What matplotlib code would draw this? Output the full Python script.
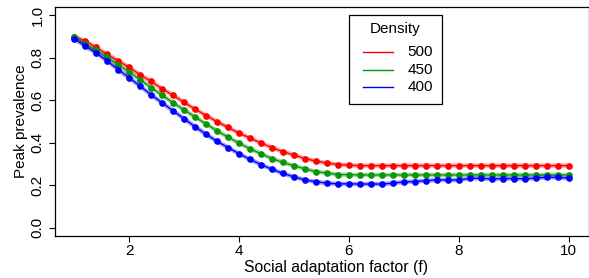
import numpy as np
import matplotlib
matplotlib.use("Agg")
import matplotlib.pyplot as plt
from matplotlib.patches import Rectangle

# social adaptation factor, step 0.2
f = np.round(np.linspace(1, 10, 46), 1)

dens_500 = [0.900, 0.880, 0.849, 0.816, 0.786, 0.755, 0.720, 0.689, 0.654, 0.623,
            0.590, 0.558, 0.528, 0.499, 0.472, 0.445, 0.422, 0.398, 0.377, 0.357,
            0.342, 0.325, 0.313, 0.304, 0.297, 0.294] + [0.292] * 20
dens_450 = [0.900, 0.865, 0.835, 0.802, 0.767, 0.733, 0.697, 0.660, 0.624, 0.588,
            0.555, 0.521, 0.488, 0.456, 0.426, 0.398, 0.371, 0.348, 0.325, 0.307,
            0.291, 0.277, 0.263, 0.257, 0.250, 0.249] + [0.248] * 20
dens_400 = [0.890, 0.856, 0.823, 0.785, 0.745, 0.706, 0.667, 0.626, 0.588, 0.550,
            0.513, 0.475, 0.440, 0.406, 0.377, 0.348, 0.321, 0.297, 0.274, 0.255,
            0.239, 0.224, 0.216, 0.209, 0.206, 0.206, 0.205, 0.205, 0.205, 0.209,
            0.215, 0.217, 0.220, 0.225, 0.224, 0.224, 0.232, 0.232, 0.229, 0.231,
            0.231, 0.230, 0.233, 0.237, 0.236, 0.233]

labels = ["500", "450", "400"]
colors = ["#ff0000", "#0a960a", "#0000ff"]
series = [dens_500, dens_450, dens_400]

plt.rcParams['font.family'] = ['Liberation Sans', 'DejaVu Sans']
plt.rcParams['font.size'] = 11

fig = plt.figure(figsize=(5.89, 2.78), dpi=100)
ax = fig.add_axes([54.5 / 589, 42 / 278, 534 / 589, 229 / 278])

for y, c in zip(series, colors):
    ax.plot(f, y, color=c, lw=3.2, alpha=0.35, solid_capstyle='butt')
    ax.plot(f, y, color=c, lw=1, marker='o', ms=3.8, mec=c, mfc=c)

ax.set_xlim(0.64, 10.36)
ax.set_ylim(-0.04, 1.04)
ax.set_xticks([2, 4, 6, 8, 10])
ax.set_yticks([0.0, 0.2, 0.4, 0.6, 0.8, 1.0])
ax.set_yticklabels(["0.0", "0.2", "0.4", "0.6", "0.8", "1.0"], rotation=90, va='center')
ax.tick_params(direction='out', length=4.5, width=0.8, labelsize=11)
ax.tick_params(axis='x', pad=1.5)
ax.tick_params(axis='y', pad=2.5)
for s in ax.spines.values():
    s.set_linewidth(0.9)

# the original plot region runs past the right edge, so the label sits right of centre
ax.set_xlabel('Social adaptation factor (f)', fontsize=11.3, labelpad=1, x=0.528)
ax.set_ylabel('Peak prevalence', fontsize=11, labelpad=2)

# legend box drawn R-style
ax.add_patch(Rectangle((0.552, 0.576), 0.1736, 0.389, transform=ax.transAxes,
                       facecolor='white', edgecolor='black', lw=0.9, zorder=5))
ax.text(0.6376, 0.905, 'Density', transform=ax.transAxes, ha='center', va='center',
        fontsize=11, zorder=6)
for i, (lab, c) in enumerate(zip(labels, colors)):
    yy = 0.8035 - i * 0.0765
    ax.plot([0.5777, 0.6339], [yy, yy], color=c, lw=1, transform=ax.transAxes, zorder=6)
    ax.text(0.7088, yy, lab, transform=ax.transAxes, ha='right', va='center',
            fontsize=11, zorder=6)

fig.savefig('out.png', dpi=100)
